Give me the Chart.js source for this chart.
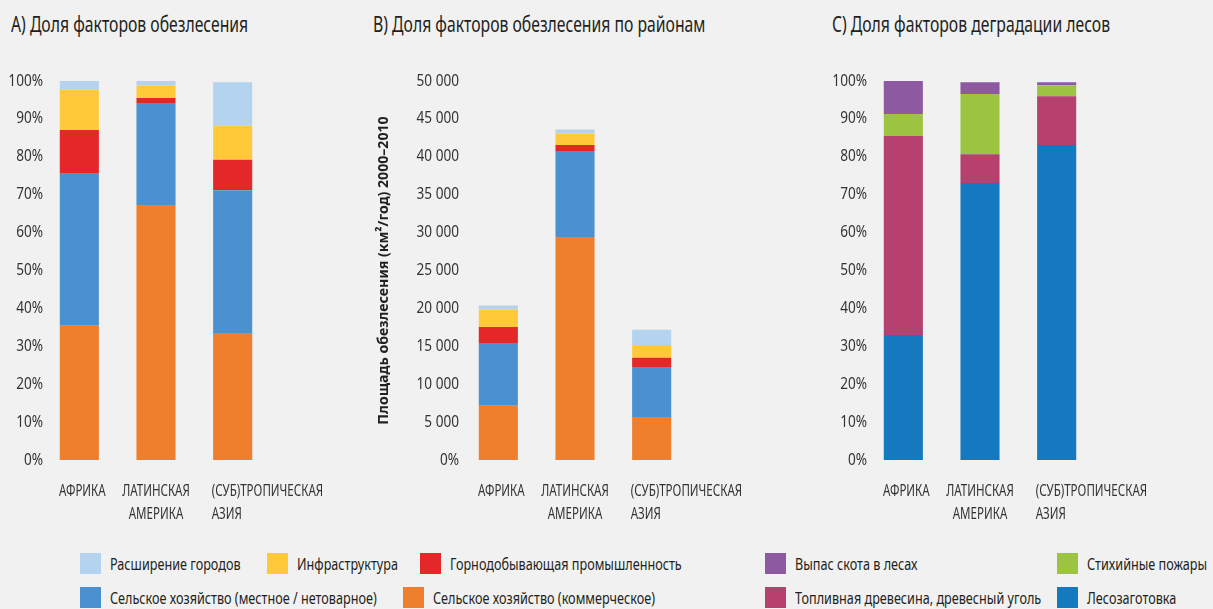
<!DOCTYPE html>
<html lang="ru">
<head>
<meta charset="utf-8">
<title>Факторы обезлесения и деградации лесов</title>
<script src="https://cdn.jsdelivr.net/npm/chart.js@4.4.1/dist/chart.umd.min.js"></script>
<style>
  html, body { margin: 0; padding: 0; }
  body {
    width: 1213px; height: 609px; overflow: hidden; position: relative;
    background: #f1f1f1;
    font-family: 'Noto Sans', sans-serif;
    color: #231f20;
  }
  .panel { position: absolute; top: 0; height: 540px; }
  .panel canvas { display: block; }
  .ttl {
    position: absolute; top: 11px; font-size: 21px; line-height: 26px; white-space: nowrap; color: #231f20;
    transform: scaleX(0.75); transform-origin: 0 50%;
  }
  .lg { position: absolute; height: 21px; display: flex; align-items: center; white-space: nowrap; font-size: 16px; color: #231f20; }
  .lg i { display: inline-block; width: 21px; height: 21px; margin-right: 9px; flex: none; }
  .lg span { display: inline-block; transform: scaleX(0.79); transform-origin: 0 50%; }
</style>
</head>
<body>

<div class="ttl" style="left:11px">A) Доля факторов обезлесения</div>
<div class="ttl" style="left:373px">B) Доля факторов обезлесения по районам</div>
<div class="ttl" style="left:832px">C) Доля факторов деградации лесов</div>

<div class="panel" style="left:0;width:340px"><canvas id="chartA" width="340" height="540"></canvas></div>
<div class="panel" style="left:370px;width:400px"><canvas id="chartB" width="400" height="540"></canvas></div>
<div class="panel" style="left:820px;width:393px"><canvas id="chartC" width="393" height="540"></canvas></div>

<div id="legend"></div>

<script>
// Regions (one entry per bar, each line of the label as a separate string)
const regions = [['АФРИКА'], ['ЛАТИНСКАЯ', 'АМЕРИКА'], ['(СУБ)ТРОПИЧЕСКАЯ', 'АЗИЯ']];

// Series names
const nameUrban = 'Расширение городов';
const nameInfra = 'Инфраструктура';
const nameMining = 'Горнодобывающая промышленность';
const nameLocalAgri = 'Сельское хозяйство (местное / нетоварное)';
const nameCommAgri = 'Сельское хозяйство (коммерческое)';
const nameGrazing = 'Выпас скота в лесах';
const nameFires = 'Стихийные пожары';
const nameFuelwood = 'Топливная древесина, древесный уголь';
const nameLogging = 'Лесозаготовка';

// A) Share of deforestation drivers, %
const shareCommAgri = [35.4, 67.3, 33.5];
const shareLocalAgri = [40.1, 26.9, 37.7];
const shareMining = [11.6, 1.3, 8.0];
const shareInfra = [10.6, 3.3, 9.0];
const shareUrban = [2.3, 1.2, 11.5];

// B) Deforested area by driver, km²/year, 2000–2010
const areaCommAgri = [7170, 29420, 5670];
const areaLocalAgri = [8180, 11350, 6510];
const areaMining = [2200, 790, 1320];
const areaInfra = [2290, 1500, 1670];
const areaUrban = [530, 530, 2020];

// C) Share of forest degradation drivers, %
const degLogging = [33.0, 73.1, 83.1];
const degFuelwood = [52.5, 7.6, 12.9];
const degFires = [5.8, 15.9, 2.9];
const degGrazing = [8.7, 3.1, 0.8];

// Axis tick values
const pctTicks = [0, 10, 20, 30, 40, 50, 60, 70, 80, 90, 100];
const areaTicks = [0, 5000, 10000, 15000, 20000, 25000, 30000, 35000, 40000, 45000, 50000];
const areaAxisTitle = 'Площадь обезлесения (км²/год) 2000–2010';

const colors = {
  urban: '#b3d3ee', infra: '#ffc93a', mining: '#e4282a', localAgri: '#4a92cf', commAgri: '#f07f2d',
  grazing: '#8d5aa2', fires: '#9dc440', fuelwood: '#b6406e', logging: '#1479be'
};

const FONT = "'Noto Sans', sans-serif";
Chart.defaults.font.family = FONT;

// Narrow text: draw with a horizontal squeeze around the anchor point
function narrowText(ctx, text, x, y, align, sx, rot) {
  ctx.save();
  ctx.translate(x, y);
  if (rot) ctx.rotate(rot);
  ctx.scale(sx, 1);
  ctx.textAlign = align;
  ctx.fillText(text, 0, 0);
  ctx.restore();
}

// Draws the y tick labels, the optional y title and the region names under the bars
const axisText = {
  id: 'axisText',
  afterDraw(chart, args, o) {
    const ctx = chart.ctx;
    const xs = chart.scales.x, ys = chart.scales.y;
    const area = chart.chartArea;
    ctx.save();
    ctx.fillStyle = o.color;
    ctx.textBaseline = 'middle';

    ctx.font = `${o.tickSize}px ${FONT}`;
    ys.ticks.forEach(t => {
      narrowText(ctx, o.tickFormat(t.value), area.left - o.tickPad, ys.getPixelForValue(t.value), 'right', o.squeeze);
    });

    if (o.title) {
      ctx.font = `bold ${o.titleSize}px ${FONT}`;
      ctx.fillStyle = o.titleColor;
      narrowText(ctx, o.title, o.titleX, (area.top + area.bottom) / 2, 'center', o.titleSqueeze, -Math.PI / 2);
      ctx.fillStyle = o.color;
    }

    ctx.font = `${o.labelSize}px ${FONT}`;
    chart.data.labels.forEach((lines, i) => {
      const px = xs.getPixelForValue(i) + o.labelShift[i];
      const align = o.labelAlign[i] === 'start' ? 'left' : 'center';
      lines.forEach((line, j) => {
        narrowText(ctx, line, px, area.bottom + o.firstLine + j * o.lineGap, align, o.labelSqueeze);
      });
    });
    ctx.restore();
  }
};

const fmtPct = v => v + '%';
const fmtThousands = v => v === 0 ? '0%' : String(v).replace(/\B(?=(\d{3})+(?!\d))/g, ' ');

function stackedChart(id, datasets, yMax, ticks, tickFmt, axisWidth, tickPad, padRight, yTitle) {
  return new Chart(document.getElementById(id), {
    type: 'bar',
    data: {
      labels: regions,
      datasets: datasets.map(d => ({
        label: d[0], data: d[1], backgroundColor: d[2],
        borderWidth: 0, categoryPercentage: 0.51, barPercentage: 1
      }))
    },
    plugins: [axisText],
    options: {
      responsive: false,
      animation: false,
      events: [],
      layout: { padding: { top: 81, bottom: 80, left: 0, right: padRight } },
      plugins: {
        legend: { display: false },
        tooltip: { enabled: false },
        title: { display: false },
        axisText: {
          color: '#333333', tickSize: 16, tickPad: tickPad, tickFormat: tickFmt, squeeze: 0.85,
          title: yTitle, titleSize: 15, titleColor: '#231f20', titleX: 14, titleSqueeze: 0.94,
          labelSize: 16.5, labelSqueeze: 0.7, firstLine: 31, lineGap: 23,
          labelAlign: ['center', 'center', 'start'], labelShift: [3, 0, -21]
        }
      },
      scales: {
        x: { stacked: true, display: false },
        y: {
          stacked: true, min: 0, max: yMax,
          grid: { display: false, drawTicks: false }, border: { display: false },
          afterBuildTicks: s => { s.ticks = ticks.map(v => ({ value: v })); },
          afterFit: s => { s.width = axisWidth; },
          ticks: { display: false }
        }
      }
    }
  });
}

stackedChart('chartA', [
  [nameCommAgri, shareCommAgri, colors.commAgri],
  [nameLocalAgri, shareLocalAgri, colors.localAgri],
  [nameMining, shareMining, colors.mining],
  [nameInfra, shareInfra, colors.infra],
  [nameUrban, shareUrban, colors.urban]
], 100, pctTicks, fmtPct, 41, -2, 69);

stackedChart('chartB', [
  [nameCommAgri, areaCommAgri, colors.commAgri],
  [nameLocalAgri, areaLocalAgri, colors.localAgri],
  [nameMining, areaMining, colors.mining],
  [nameInfra, areaInfra, colors.infra],
  [nameUrban, areaUrban, colors.urban]
], 50000, areaTicks, fmtThousands, 90, 1, 80, areaAxisTitle);

stackedChart('chartC', [
  [nameLogging, degLogging, colors.logging],
  [nameFuelwood, degFuelwood, colors.fuelwood],
  [nameFires, degFires, colors.fires],
  [nameGrazing, degGrazing, colors.grazing]
], 100, pctTicks, fmtPct, 45, -2, 118);

// Shared legend below the three panels
const legendItems = [
  [nameUrban, colors.urban, 80, 553], [nameInfra, colors.infra, 267, 553], [nameMining, colors.mining, 420, 553],
  [nameGrazing, colors.grazing, 765, 553], [nameFires, colors.fires, 1057, 553],
  [nameLocalAgri, colors.localAgri, 80, 587], [nameCommAgri, colors.commAgri, 403, 587],
  [nameFuelwood, colors.fuelwood, 765, 587], [nameLogging, colors.logging, 1057, 587]
];
const legendEl = document.getElementById('legend');
legendItems.forEach(([text, color, x, y]) => {
  const el = document.createElement('div');
  el.className = 'lg';
  el.style.left = x + 'px';
  el.style.top = y + 'px';
  el.innerHTML = `<i style="background:${color}"></i><span></span>`;
  el.querySelector('span').textContent = text;
  legendEl.appendChild(el);
});
</script>
</body>
</html>
